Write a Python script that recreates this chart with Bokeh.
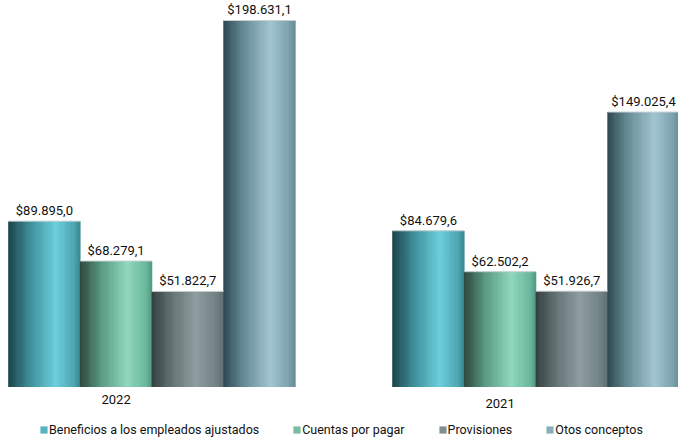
from bokeh.plotting import figure
from bokeh.models import Range1d, ColumnDataSource, Legend, LegendItem
from bokeh.core.properties import value
from bokeh.embed import file_html
from bokeh.resources import INLINE

# ---------------- data ----------------
years = ["2022", "2021"]
series = ["Beneficios a los empleados ajustados", "Cuentas por pagar",
          "Provisiones", "Otos conceptos"]
values_2022 = [89895.0, 68279.1, 51822.7, 198631.1]
values_2021 = [84679.6, 62502.2, 51926.7, 149025.4]
group_values = [values_2022, values_2021]

# ---------------- style ----------------
FONT = "Roboto"
gradients = [
    [(0.0, "#1c434a"), (0.30, "#3d8e9a"), (0.66, "#6ccfdc"), (0.92, "#4ba5b1"), (1.0, "#3b8791")],
    [(0.0, "#2c463c"), (0.30, "#5a9a83"), (0.66, "#8fd7bd"), (0.92, "#6bb89d"), (1.0, "#4f9a80")],
    [(0.0, "#353f40"), (0.30, "#667577"), (0.62, "#8e9d9f"), (0.92, "#6f7f81"), (1.0, "#5d6c6e")],
    [(0.0, "#2e4850"), (0.30, "#6a8f99"), (0.66, "#a1c5d0"), (0.92, "#7aa0ab"), (1.0, "#678d98")],
]
group_start = [0.0, 5.356]
year_offsets = [12, 16]
N_STRIPS = 64
LEGEND_T = 0.5


def hex2rgb(h):
    h = h.lstrip("#")
    return tuple(int(h[i:i + 2], 16) for i in (0, 2, 4))


def interp(stops, t):
    for (t0, c0), (t1, c1) in zip(stops[:-1], stops[1:]):
        if t0 <= t <= t1:
            f = (t - t0) / (t1 - t0) if t1 > t0 else 0
            a, b = hex2rgb(c0), hex2rgb(c1)
            return "#%02x%02x%02x" % tuple(int(round(a[i] + (b[i] - a[i]) * f)) for i in range(3))
    return stops[-1][1]


def fmt(v):
    s = f"{v:,.1f}"
    s = s.replace(",", "X").replace(".", ",").replace("X", ".")
    return "$" + s


p = figure(width=678, height=440, output_backend="svg", toolbar_location=None,
           x_range=Range1d(-0.112, 9.344), y_range=Range1d(-28995, 209470),
           x_axis_location=None, y_axis_location=None, min_border=0,
           outline_line_color=None, background_fill_color="white",
           border_fill_color="white")
p.xgrid.visible = False
p.ygrid.visible = False

# gradient bars made of thin strips, one renderer per series
series_renderers = []
for i in range(len(series)):
    xs, tops, cols = [], [], []
    for g, vals in enumerate(group_values):
        x0 = group_start[g] + i
        for k in range(N_STRIPS):
            t = (k + 0.5) / N_STRIPS
            xs.append(x0 + t)
            tops.append(vals[i])
            cols.append(interp(gradients[i], t))
    r = p.vbar(x="x", top="top", bottom=0, width=1.6 / N_STRIPS, fill_color="col",
               line_color=None, source=ColumnDataSource(dict(x=xs, top=tops, col=cols)))
    series_renderers.append(r)

top_x0, top_x1, top_y = [], [], []
lab_x, lab_y, lab_t = [], [], []
for g, vals in enumerate(group_values):
    for i, v in enumerate(vals):
        x0 = group_start[g] + i
        top_x0.append(x0)
        top_x1.append(x0 + 1)
        top_y.append(v)
        lab_x.append(x0 + 0.5)
        lab_y.append(v)
        lab_t.append(fmt(v))

p.segment(x0=top_x0, y0=top_y, x1=top_x1, y1=top_y, line_color="#c9d1d2", line_width=1)

p.text(x=lab_x, y=lab_y, text=lab_t, text_align="center", text_baseline="bottom",
       y_offset=-3, text_font=value(FONT), text_font_size="13px", text_color="#111111")

for g, yr in enumerate(years):
    p.text(x=[group_start[g] + 1.5], y=[0], text=[yr], text_align="center",
           text_baseline="middle", y_offset=year_offsets[g], text_font=value(FONT),
           text_font_size="13px", text_color="#111111")

# legend
items = []
for i, name in enumerate(series):
    items.append(LegendItem(label=name, renderers=[series_renderers[i]],
                            index=int(LEGEND_T * N_STRIPS)))
legend = Legend(items=items, orientation="horizontal", location=(39, 3),
                glyph_width=9, glyph_height=9, label_height=12, label_standoff=1,
                spacing=33, padding=0, margin=0, border_line_color=None,
                background_fill_alpha=0, label_text_font=FONT,
                label_text_font_size="12.5px", label_text_color="#111111")
p.add_layout(legend)

open("out.html", "w").write(file_html(p, INLINE))
